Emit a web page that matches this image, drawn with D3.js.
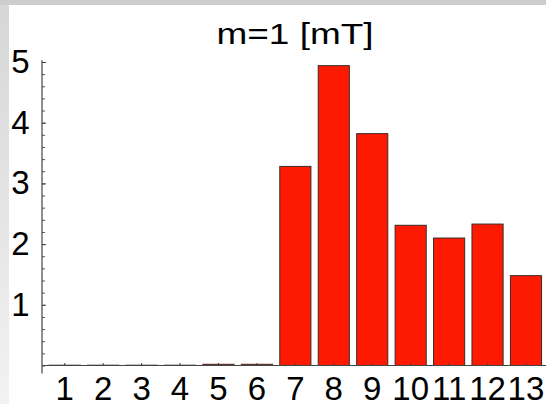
<!DOCTYPE html>
<html>
<head>
<meta charset="utf-8">
<script src="https://cdn.jsdelivr.net/npm/d3@7"></script>
<style>
  body { margin: 0; background: #fff; }
  svg { display: block; }
</style>
</head>
<body>
<svg id="chart"></svg>
<script>
// bar categories and values
var categories = [1, 2, 3, 4, 5, 6, 7, 8, 9, 10, 11, 12, 13]
var values = [0.005, 0.005, 0.005, 0.005, 0.02, 0.02, 3.28, 4.94, 3.82, 2.31, 2.10, 2.33, 1.48]
var yTicks = [1, 2, 3, 4, 5]
var title = "m=1 [mT]"

var dimensions = {
    width: 546,
    height: 404,
    margin: { top: 62, bottom: 38.5, left: 42, right: 1 }
}

var svg = d3.select("#chart")
            .attr("width", dimensions.width)
            .attr("height", dimensions.height)

// grey page frame on top / left
var defs = svg.append("defs")
var grad = defs.append("linearGradient").attr("id", "leftGrad")
            .attr("x1", 0).attr("y1", 0).attr("x2", 0).attr("y2", 1)
grad.append("stop").attr("offset", "0%").attr("stop-color", "#d6d6d6")
grad.append("stop").attr("offset", "100%").attr("stop-color", "#f2f2f2")

svg.append("rect").attr("x", 0).attr("y", 0).attr("width", 9).attr("height", dimensions.height)
    .attr("fill", "url(#leftGrad)")
svg.append("rect").attr("x", 0).attr("y", 0).attr("width", dimensions.width).attr("height", 5)
    .attr("fill", "#cdcdcd")

var xScale = d3.scaleBand()
                .domain(categories)
                .range([45.5, 545.2])
                .paddingInner(0.19)
                .paddingOuter(0.095)

var yScale = d3.scaleLinear()
                .domain([0, 5])
                .range([dimensions.height - dimensions.margin.bottom, dimensions.margin.top])

var fontFam = "'Liberation Sans', Arial, Helvetica, sans-serif"

// bars
svg.append("g")
    .selectAll("rect")
    .data(values)
    .enter()
    .append("rect")
    .attr("x", (d, i) => xScale(categories[i]))
    .attr("y", d => yScale(d))
    .attr("width", xScale.bandwidth())
    .attr("height", d => yScale(0) - yScale(d))
    .attr("fill", "#fe1a00")
    .attr("stroke", "#3a2a2a")
    .attr("stroke-width", 1)

// minor y ticks
var minorAxis = d3.axisLeft(yScale)
                    .tickValues(d3.range(0, 26).map(d => d / 5))
                    .tickSizeInner(-3)
                    .tickSizeOuter(0)
                    .tickFormat("")
svg.append("g")
    .attr("transform", `translate(${dimensions.margin.left},0)`)
    .call(minorAxis)
    .call(g => g.select(".domain").remove())
    .call(g => g.selectAll("line").attr("stroke", "#555"))

// major y ticks + labels
var yAxis = d3.axisLeft(yScale)
                .tickValues(yTicks)
                .tickFormat(d3.format("d"))
                .tickSizeInner(-4)
                .tickSizeOuter(0)
                .tickPadding(12.5)
svg.append("g")
    .attr("transform", `translate(${dimensions.margin.left},0)`)
    .call(yAxis)
    .call(g => g.select(".domain").remove())
    .call(g => g.selectAll("line").attr("stroke", "#444"))
    .call(g => g.selectAll("text")
        .attr("font-family", fontFam)
        .attr("font-size", 33)
        .attr("fill", "#000"))

// y axis line, runs a little past the baseline
svg.append("line")
    .attr("x1", dimensions.margin.left).attr("x2", dimensions.margin.left)
    .attr("y1", yScale(5.03)).attr("y2", yScale(-0.13))
    .attr("stroke", "#444").attr("stroke-width", 1.2)

// x axis
var xAxis = d3.axisBottom(xScale)
                .tickSizeInner(-2.5)
                .tickSizeOuter(0)
                .tickPadding(11)
svg.append("g")
    .attr("transform", `translate(0,${yScale(0)})`)
    .call(xAxis)
    .call(g => g.select(".domain").remove())
    .call(g => g.selectAll("line").attr("stroke", "#444"))
    .call(g => g.selectAll("text")
        .attr("font-family", fontFam)
        .attr("font-size", 33)
        .attr("fill", "#000"))

svg.append("line")
    .attr("x1", dimensions.margin.left).attr("x2", dimensions.width)
    .attr("y1", yScale(0)).attr("y2", yScale(0))
    .attr("stroke", "#444").attr("stroke-width", 1.2)

// title
svg.append("text")
    .attr("x", 295)
    .attr("y", 44)
    .attr("text-anchor", "middle")
    .attr("font-family", fontFam)
    .attr("font-size", 29)
    .attr("textLength", 157)
    .attr("lengthAdjust", "spacingAndGlyphs")
    .attr("fill", "#000")
    .text(title)
</script>
</body>
</html>
